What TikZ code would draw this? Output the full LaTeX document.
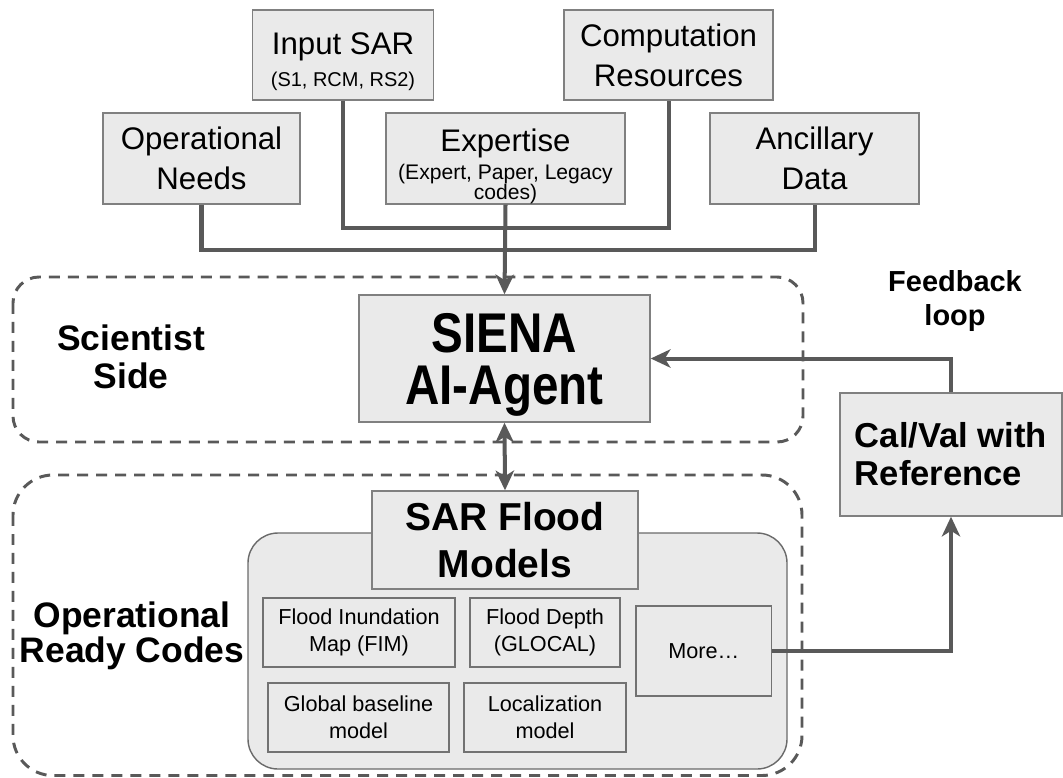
\documentclass[tikz,border=0pt]{standalone}
\usepackage{fontspec}
\setmainfont{Liberation Sans}
\newfontfamily\narrowfont[FakeStretch=0.85]{Liberation Sans}
\usetikzlibrary{arrows.meta}
\definecolor{boxfill}{RGB}{234,234,234}
\definecolor{boxline}{RGB}{128,128,128}
\definecolor{linkgray}{RGB}{89,89,89}
\tikzset{
    box/.style={draw=boxline, fill=boxfill, line width=1pt, align=center, inner sep=0pt},
    bigtxt/.style={font=\fontsize{22.2pt}{28.5pt}\selectfont},
    subbox/.style={box, draw=linkgray!85, font=\fontsize{15.4pt}{19pt}\selectfont},
    link/.style={draw=linkgray, line width=2.85pt},
    arr/.style={-{Stealth[length=14pt,width=13pt,inset=4pt]}},
    twoarr/.style={{Stealth[length=14pt,width=13pt,inset=4pt]}-{Stealth[length=14pt,width=13pt,inset=4pt]}},
    zone/.style={draw=linkgray, line width=2.1pt, dash pattern=on 7.8pt off 5.7pt},
}
\begin{document}
\begin{tikzpicture}[x=0.025cm, y=-0.025cm]
        \path[use as bounding box, fill=white] (0,0) rectangle (1063,777);

        % Zonas
        \draw[zone, rounded corners=0.65cm] (13,277) rectangle (803,442);
        \draw[zone, rounded corners=1cm] (13,475) rectangle (802,775.5);
        \draw[draw=linkgray!90, fill=boxfill, line width=1pt, rounded corners=0.75cm] (248,533) rectangle (787,769);

        % Entradas
        \node[box, bigtxt, text height=45pt, text depth=0pt, minimum width=4.525cm, minimum height=2.25cm] (sar) at (343,55)
            {Input SAR\\[-5.5pt]\fontsize{14.2pt}{14.5pt}\selectfont (S1, RCM, RS2)};
        \node[box, bigtxt, minimum width=5.225cm, minimum height=2.25cm] (comp) at (668.5,55) {Computation\\Resources};
        \node[box, bigtxt, minimum width=4.925cm, minimum height=2.275cm] (needs) at (201.5,158.5) {Operational\\Needs};
        \node[box, bigtxt, text height=59pt, text depth=0pt, minimum width=5.975cm, minimum height=2.275cm] (expert) at (505.5,158.5)
            {Expertise\\[-8.5pt]\fontsize{15pt}{15pt}\selectfont (Expert, Paper, Legacy\\[-14pt]\fontsize{15pt}{15pt}\selectfont codes)};
        \node[box, bigtxt, minimum width=5.225cm, minimum height=2.275cm] (anc) at (814.5,158.5) {Ancillary\\Data};

        % Agente
        \node[box, text depth=-1.6pt, minimum width=7.275cm, minimum height=3.175cm,
            font=\narrowfont\bfseries\fontsize{39.8pt}{37pt}\selectfont] (siena) at (504.5,358.5) {SIENA\\AI-Agent};
        \node[font=\bfseries\fontsize{25.2pt}{27pt}\selectfont, align=center] (scientist) at (131,357) {Scientist\\Side};

        % Modelos
        \node[box, minimum width=6.65cm, minimum height=2.45cm,
            font=\bfseries\fontsize{27.7pt}{33.4pt}\selectfont] (flood) at (505,540) {SAR Flood\\Models};
        \node[subbox, minimum width=4.8cm, minimum height=1.725cm] (fim) at (359,632.5) {Flood Inundation\\Map (FIM)};
        \node[subbox, minimum width=3.75cm, minimum height=1.725cm] (depth) at (545,632.5) {Flood Depth\\(GLOCAL)};
        \node[subbox, minimum width=3.39cm, minimum height=2.25cm] (more) at (703.75,651) {More…};
        \node[subbox, minimum width=4.525cm, minimum height=1.725cm] (global) at (358.5,717.5) {Global baseline\\model};
        \node[subbox, minimum width=4.05cm, minimum height=1.725cm] (local) at (545,717.5) {Localization\\model};
        \node[font=\bfseries\fontsize{25.2pt}{25pt}\selectfont, align=center] (opscodes) at (132,636) {Operational\\Ready Codes};

        % Validacion
        \node[box, align=left, minimum width=5.55cm, minimum height=3.075cm,
            font=\bfseries\fontsize{24.6pt}{27pt}\selectfont] (calval) at (951,454.5) {Cal/Val with\\Reference};
        \node[font=\bfseries\fontsize{20.6pt}{23.5pt}\selectfont, align=center] (feedback) at (955,301) {Feedback\\loop};

        % Conexiones
        \coordinate (busA) at (505,228);
        \coordinate (busB) at (505,250);
        \draw[link] (sar.south) |- (busA) -| (comp.south);
        \draw[link] (needs.south) |- (busB) -| (anc.south);
        \draw[link, arr] (expert.south) -- (siena.north);
        \draw[link, twoarr] (siena.south) -- (flood.north);
        \draw[link, arr] (calval.north) |- (siena.east);
        \draw[link, arr] (more.east) -| (calval.south);
    \end{tikzpicture}
\end{document}
